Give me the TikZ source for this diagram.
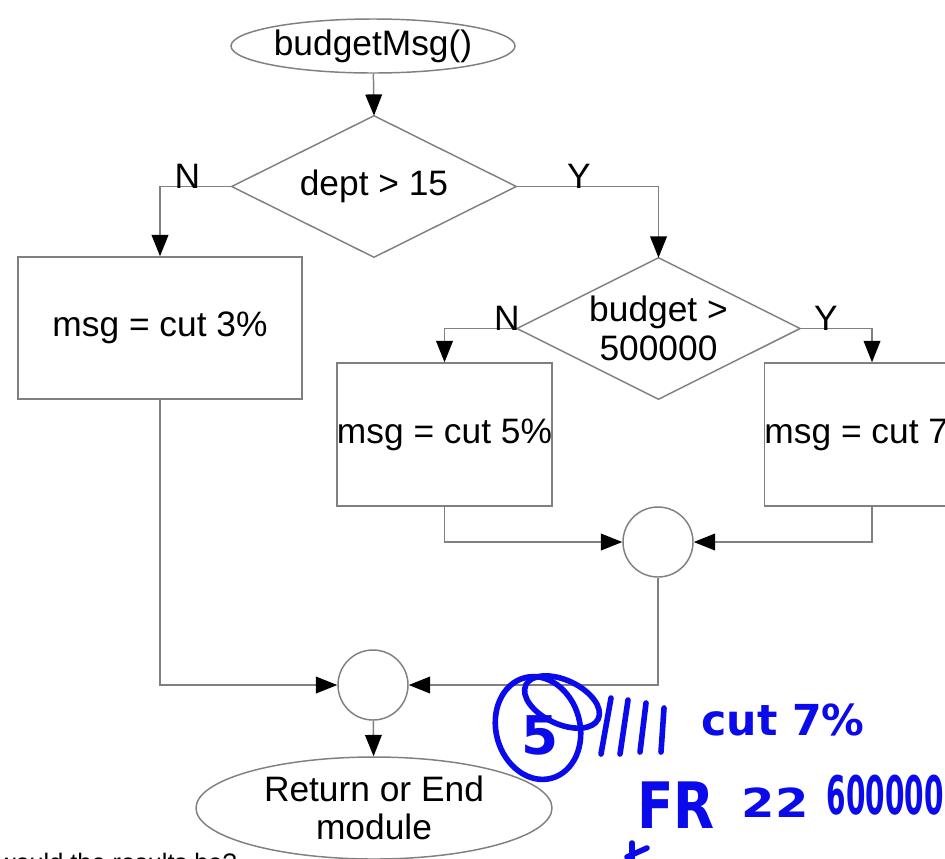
\documentclass[tikz,border=0pt]{standalone}
\usepackage{fontspec}
\setmainfont{Liberation Sans}
\newfontfamily\handfont{DejaVu Sans}
\usetikzlibrary{shapes.geometric,arrows.meta}
\definecolor{linegray}{RGB}{128,128,128}
\definecolor{inkblue}{RGB}{10,10,235}
\begin{document}
\begin{tikzpicture}[x=0.75pt,y=-0.75pt,
  every node/.style={font=\fontsize{26.5}{29}\selectfont, text=black},
  shp/.style={draw=linegray, line width=1.1pt, inner sep=0pt, align=center},
  outline/.style={draw=linegray, line width=1.1pt, line join=miter},
  term/.style={shp, ellipse},
  dec/.style={rectangle, inner sep=0pt, align=center},
  proc/.style={shp, rectangle},
  joint/.style={shp, circle, minimum size=52.5pt},
  arr/.style={draw=linegray, line width=1.1pt, -{Triangle[length=16pt,width=12.5pt,color=black]}},
  lbl/.style={anchor=base, inner sep=0pt, yshift=-1.5pt},
  ink/.style={draw=inkblue, line width=4.2pt, line cap=round, line join=round},
  inktext/.style={text=inkblue, inner sep=0pt}
]
\useasboundingbox (0,0) rectangle (945,858);
\clip (0,0) rectangle (945,858);

% shapes
\node[term, minimum width=213pt, minimum height=40.5pt] (s) at (373,46) {budgetMsg()};
\node[dec, minimum width=213pt, minimum height=105.75pt] (d1) at (374,186.5) {dept > 15};
\draw[outline] (d1.north) -- (d1.east) -- (d1.south) -- (d1.west) -- cycle;
\node[proc, minimum width=213pt, minimum height=106.5pt] (b1) at (160,328) {msg = cut 3\%};
\node[dec, minimum width=212pt, minimum height=105.75pt] (d2) at (658.5,328.5) {budget >\\500000};
\draw[outline] (d2.north) -- (d2.east) -- (d2.south) -- (d2.west) -- cycle;
\node[proc, minimum width=159.75pt, minimum height=107.25pt] (b2) at (444.5,434.5) {msg = cut 5\%};
\node[proc, minimum width=160.5pt, minimum height=107.25pt] (b3) at (872,434.5) {msg = cut 7\%};
\node[joint] (c1) at (658,542) {};
\node[joint] (c2) at (373,685) {};
\node[term, minimum width=267pt, minimum height=76.5pt] (e) at (374,808) {Return or End\\module};

% connectors
\draw[arr] (s) -- (d1.north);
\draw[arr] (d1.west) -| node[lbl, pos=0.31] {N} (b1.north);
\draw[arr] (d1.east) -| node[lbl, pos=0.22] {Y} (d2.north);
\draw[arr] (d2.west) -| node[lbl, pos=0.07] {N} (b2.north);
\draw[arr] (d2.east) -| node[lbl, pos=0.18] {Y} (b3.north);
\draw[arr] (b2.south) |- (c1.west);
\draw[arr] (b3.south) |- (c1.east);
\draw[arr] (b1.south) |- (c2.west);
\draw[arr] (c1.south) |- (c2.east);
\draw[arr] (c2) -- (e);

% question text cut off at the bottom
\node[anchor=base west, inner sep=0pt, font=\fontsize{19}{22}\selectfont] (q) at (-3,871) {would the results be?};

% handwritten annotation
\draw[ink, rotate around={15:(538,728)}] (538,728) ellipse [x radius=42, y radius=52];
\draw[ink, rotate around={-25:(562,702)}] (562,702) ellipse [x radius=40, y radius=22];
\node[inktext, font=\handfont\bfseries\fontsize{40}{46}\selectfont] (five) at (540,735) {5};
\draw[ink] (611,698) -- (601,754);
\draw[ink] (628,700) -- (620,754);
\draw[ink] (646,703) -- (640,752);
\draw[ink] (664,708) -- (661,752);
\node[inktext, font=\handfont\bfseries\fontsize{32}{40}\selectfont] (cut) at (783,720) {cut 7\%};
\node[inktext, font=\handfont\bfseries\fontsize{40}{48}\selectfont] (fr) at (676,805) {\scalebox{1}[1.2]{FR}};
\node[inktext, font=\handfont\bfseries\fontsize{30}{36}\selectfont] (tt) at (775,803) {\scalebox{1.2}[1]{22}};
\node[inktext, font=\handfont\bfseries\fontsize{21}{27}\selectfont] (num) at (885,795) {\scalebox{1}[1.9]{600000}};
\coordinate (m1) at (647,848);
\coordinate (m2) at (627,857);
\coordinate (m3) at (632,843);
\coordinate (m4) at (632,860);
\draw[ink] (m1) -- (m2);
\draw[ink] (m3) -- (m4);
\end{tikzpicture}
\end{document}
